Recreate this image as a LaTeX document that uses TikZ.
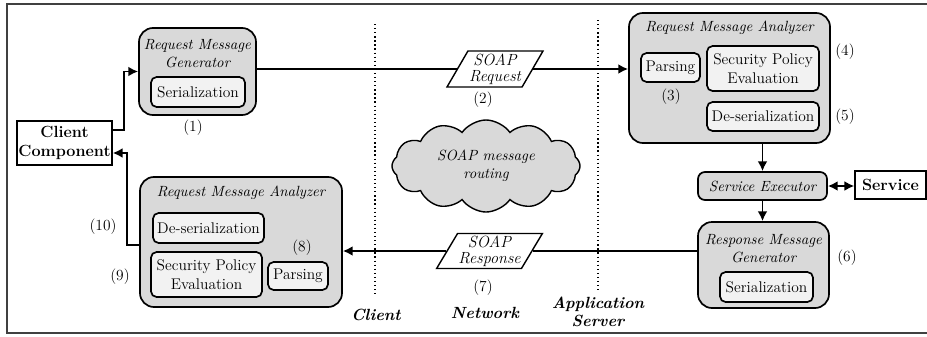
\documentclass[tikz,border=0pt]{standalone}
\usetikzlibrary{shapes.geometric,shapes.symbols,arrows.meta,positioning}

\tikzset{
  frame/.style={draw=black!75, line width=1.3pt},
  module/.style={draw, line width=1.2pt, rounded corners=10pt, fill=black!15},
  sub/.style={draw, line width=1.2pt, rounded corners=4pt, fill=black!5, align=center, inner sep=1pt},
  head/.style={font=\fontsize{10.5}{12.5}\selectfont\itshape, align=center, inner sep=0pt},
  ext/.style={draw, line width=1pt, fill=white, align=center, inner sep=1pt, font=\fontsize{11.5}{13.5}\selectfont\bfseries},
  msg/.style={trapezium, trapezium left angle=57, trapezium right angle=123, trapezium stretches body,
    draw, line width=1pt, fill=white, align=center, inner sep=0.5pt, font=\fontsize{11.5}{11.5}\selectfont\itshape},
  flow/.style={line width=1.3pt, -{Latex[length=7pt,width=7pt]}},
  both/.style={line width=1.3pt, {Latex[length=7pt,width=7pt]}-{Latex[length=7pt,width=7pt]}},
  zone/.style={font=\fontsize{11.5}{13}\selectfont\bfseries\itshape, align=center, inner sep=0pt},
  sep/.style={dotted, line width=0.9pt}
}

\begin{document}
\begin{tikzpicture}[x=0.025cm, y=-0.025cm, font=\fontsize{11}{13}\selectfont]
\useasboundingbox (0,0) rectangle (927,336);
\draw [frame] (940,4) -- (7,4) -- (7,333) -- (940,333);

% zones
\draw [sep] (375,24) -- (375,297);
\draw [sep] (598,20) -- (598,292);
\node [zone] (z_cl) at (376,315) {Client};
\node [zone] (z_nw) at (485,313) {Network};
\node [zone] (z_as) at (598,312) {Application\\Server};

% client side
\node [ext, minimum width=2.375cm, minimum height=1.1cm] (cc) at (64.5,143) {Client\\Component};
\node [module, minimum width=2.925cm, minimum height=2.175cm] (rmg) at (197.5,71.5) {};
\node [head] (rmg_t) at (197.5,53.5) {Request Message\\Generator};
\node [sub, minimum width=2.35cm, minimum height=0.75cm] (rmg_s) at (198,92) {Serialization};
\node (l1) at (193,128) {(1)};

\node [module, minimum width=5.05cm, minimum height=3.25cm] (rma2) at (241,242) {};
\node [head] (rma2_t) at (241,193) {Request Message Analyzer};
\node [sub, minimum width=2.775cm, minimum height=0.75cm] (rma2_d) at (208.5,228) {De-serialization};
\node [sub, minimum width=2.775cm, minimum height=1.125cm] (rma2_e) at (206.5,274.5) {Security Policy\\Evaluation};
\node [sub, minimum width=1.5cm, minimum height=0.7cm] (rma2_p) at (298,276) {Parsing};
\node (l8) at (302,248) {(8)};
\node (l9) at (120,277) {(9)};
\node (l10) at (103,227) {(10)};

% network
\node [msg, minimum width=2.4cm, minimum height=0.9cm] (req) at (495,69) {SOAP\\Request};
\node (l2) at (483,100) {(2)};
\node [cloud, cloud puffs=12, cloud puff arc=110, cloud ignores aspect, draw, line width=1pt, fill=black!15,
  minimum width=4.7cm, minimum height=2.3cm, inner sep=0pt, align=center,
  font=\fontsize{10.5}{12.5}\selectfont\itshape] (route) at (486,166) {SOAP message\\routing};
\node [msg, minimum width=2.575cm, minimum height=0.875cm] (resp) at (489.5,251) {SOAP\\Response};
\node (l7) at (483,288) {(7)};

% server side
\node [module, minimum width=5.025cm, minimum height=3.25cm] (rma) at (729.5,78) {};
\node [head] (rma_t) at (729.5,28) {Request Message Analyzer};
\node [sub, minimum width=1.475cm, minimum height=0.725cm] (rma_p) at (670.5,67.5) {Parsing};
\node [sub, minimum width=2.8cm, minimum height=1.125cm] (rma_e) at (763,68.5) {Security Policy\\Evaluation};
\node [sub, minimum width=2.8cm, minimum height=0.725cm] (rma_d) at (763,116.5) {De-serialization};
\node (l3) at (671,97) {(3)};
\node (l4) at (845,52) {(4)};
\node (l5) at (845,117) {(5)};

\node [module, rounded corners=5pt, minimum width=3.225cm, minimum height=0.7cm,
  font=\fontsize{10.5}{12.5}\selectfont\itshape] (se) at (762.5,186) {Service Executor};
\node [ext, minimum width=1.775cm, minimum height=0.7cm] (svc) at (890.5,185) {Service};

\node [module, minimum width=3.275cm, minimum height=2.15cm] (rmg2) at (763.5,265) {};
\node [head] (rmg2_t) at (763.5,248.5) {Response Message\\Generator};
\node [sub, minimum width=2.325cm, minimum height=0.75cm] (rmg2_s) at (766.5,287) {Serialization};
\node (l6) at (847,258) {(6)};

% flows
\draw [flow] ([yshift=0.325cm]cc.east) -- ++(0.275cm,0) |- (rmg.west);
\draw [line width=1.3pt] (rmg.east |- req.west) -- (req.west);
\draw [flow] (req.east) -- (req.east -| rma.west);
\draw [flow] (se.north |- rma.south) -- (se.north);
\draw [both] (se.east) -- (se.east -| svc.west);
\draw [flow] (se.south) -- (se.south |- rmg2.north);
\draw [line width=1.3pt] (rmg2.west |- resp.east) -- (resp.east);
\draw [flow] (resp.west) -- (resp.west -| rma2.east);
\draw [flow] ([yshift=-0.075cm]rma2.west) -- ++(-0.3cm,0) |- ([yshift=-0.25cm]cc.east);
\end{tikzpicture}
\end{document}
